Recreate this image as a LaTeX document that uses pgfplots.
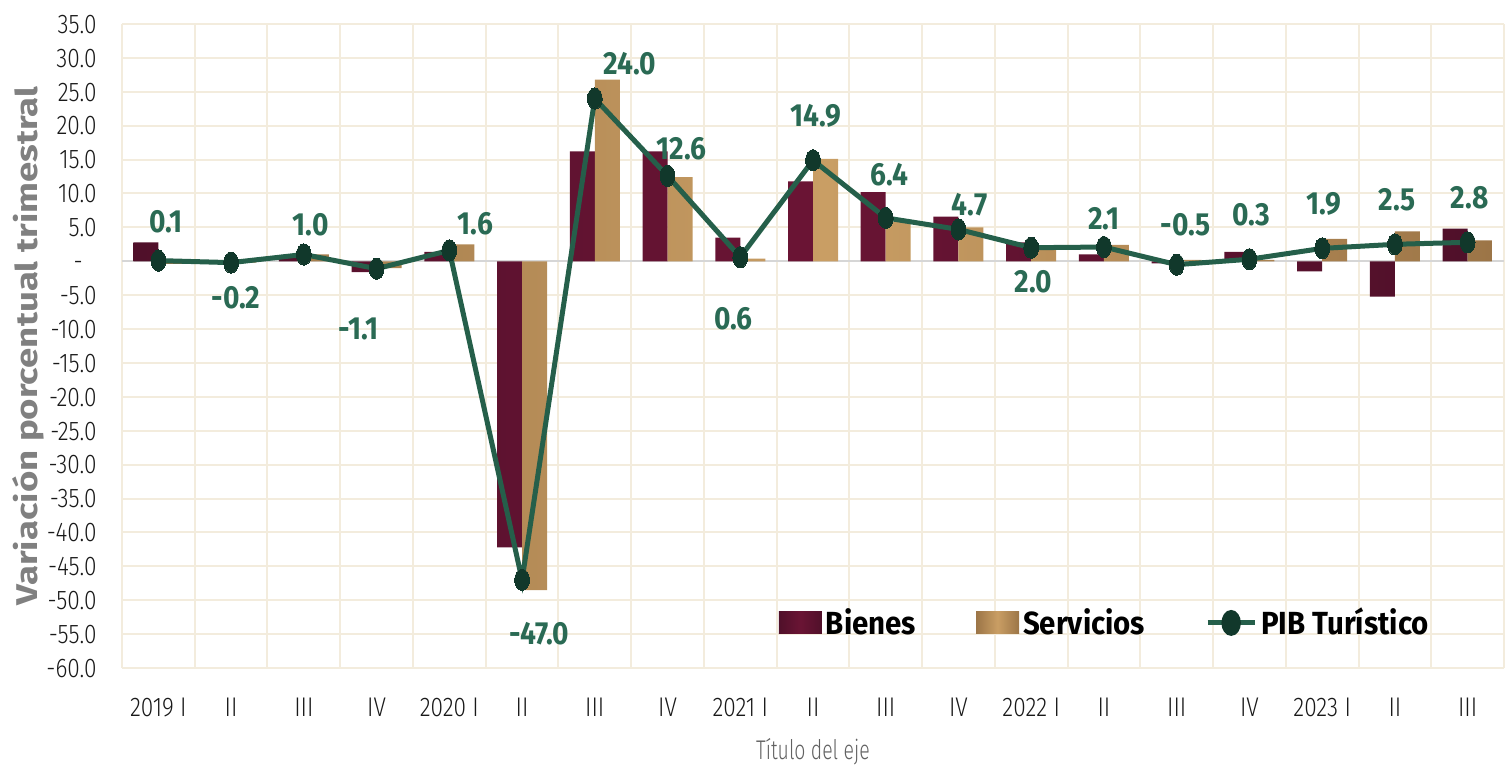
\documentclass[border=0pt]{standalone}
\usepackage{fontspec}
\setmainfont{Fira Sans}
\newfontfamily\tickfont{Fira Sans Light}[FakeStretch=0.84]
\newfontfamily\titlefont{Fira Sans Light}[FakeStretch=0.72]
\newfontfamily\labfont{Fira Sans}[FakeStretch=0.88]
\newfontfamily\legfont{Fira Sans}[FakeStretch=0.92]
\newfontfamily\ylabfont{Fira Sans}[FakeStretch=1.22]
\usepackage{pgfplots}
\pgfplotsset{compat=1.18}
\usepackage{pgfplotstable}

\definecolor{grd}{HTML}{F3ECDD}
\definecolor{zero}{HTML}{D6D6D6}
\definecolor{bien}{HTML}{6A1434}
\definecolor{biendk}{HTML}{50102A}
\definecolor{serv}{HTML}{C99E64}
\definecolor{servdk}{HTML}{9C7547}
\definecolor{pib}{HTML}{255F4A}
\definecolor{pibmk}{HTML}{11382B}
\definecolor{lab}{HTML}{2A6A54}

\pgfplotstableread{
x bienes servicios pib dx dy lab
0 2.8 -0.4 0.1 4 19.5 0.1
1 -0.3 -0.2 -0.2 2.5 -17.5 -0.2
2 0.8 1.0 1.0 3.5 15 1.0
3 -1.6 -1.0 -1.1 -9 -30 -1.1
4 1.4 2.5 1.6 13 13.5 1.6
5 -42.2 -48.5 -47.0 8.5 -27 -47.0
6 16.2 26.8 24.0 17.5 17.5 24.0
7 16.2 12.4 12.6 7 13.5 12.6
8 3.5 0.4 0.6 -3.5 -31 0.6
9 11.8 15.1 14.9 1.5 22 14.9
10 10.2 5.8 6.4 2 21.5 6.4
11 6.6 5.0 4.7 5.5 12.5 4.7
12 2.8 1.8 2.0 1 -17 2.0
13 1.0 2.4 2.1 0 14 2.1
14 -0.3 0.2 -0.5 4.5 20 -0.5
15 1.4 0.2 0.3 1 22.5 0.3
16 -1.5 3.3 1.9 1 22 1.9
17 -5.2 4.4 2.5 1 22.5 2.5
18 4.8 3.1 2.8 1 22.5 2.8
}\datatable

\begin{document}
\begin{tikzpicture}
\useasboundingbox (-61pt,-49pt) rectangle (693pt,334pt);
\begin{axis}[
  at={(0pt,0pt)}, anchor=south west,
  scale only axis, width=691pt, height=322pt,
  xmin=-0.5, xmax=18.5, ymin=-60, ymax=35,
  enlargelimits=false, clip=false,
  axis line style={draw=none},
  tick style={draw=none}, major tick length=0pt, minor tick length=0pt,
  xtick={0,...,18},
  xticklabels={2019 I, II, III, IV, 2020 I, II, III, IV, 2021 I, II, III, IV, 2022 I, II, III, IV, 2023 I, II, III},
  minor xtick={-0.5,0.5,...,18.5},
  xminorgrids=true, xmajorgrids=false, ymajorgrids=true,
  major grid style={grd, line width=1pt},
  minor grid style={grd, line width=1pt},
  ytick={-60,-55,...,35},
  yticklabels={-60.0,-55.0,-50.0,-45.0,-40.0,-35.0,-30.0,-25.0,-20.0,-15.0,-10.0,-5.0,{-\hspace*{7pt}},5.0,10.0,15.0,20.0,25.0,30.0,35.0},
  ticklabel style={font=\tickfont\fontsize{13.5}{14}\selectfont, text=black!90},
  yticklabel style={anchor=east, inner sep=0pt, xshift=-12.5pt, text height=9.3pt, text depth=0pt},
  xticklabel style={anchor=center, inner sep=0pt, yshift=-19.75pt, text height=9.3pt, text depth=0pt},
  ylabel={Variación porcentual trimestral},
  ylabel style={at={(axis description cs:-0.068,0.5)}, anchor=center, font=\ylabfont\bfseries\fontsize{15}{16}\selectfont, text=black!50},
  xlabel={Título del eje},
  xlabel style={at={(axis description cs:0.5,-0.1304)}, anchor=center, font=\titlefont\fontsize{13.5}{14}\selectfont, text=black!62},
  legend style={at={(0.475,0.07)}, anchor=west, draw=none, fill=none, inner sep=0pt,
    legend columns=3, font=\legfont\bfseries\fontsize{16}{17}\selectfont, text=black,
    /tikz/every even column/.append style={column sep=28pt}},
  legend cell align=left,
]
\draw[zero, line width=1.2pt] (axis cs:-0.5,0) -- (axis cs:18.5,0);
\addplot[ybar, bar width=12.5pt, bar shift=-6.25pt, draw=none,
  left color=biendk, right color=biendk, middle color=bien,
  legend image code/.code={\path[left color=biendk, right color=biendk, middle color=bien] (0pt,-5.5pt) rectangle (21.5pt,5.5pt);}]
  table[x=x, y=bienes] {\datatable};
\addlegendentry{Bienes}
\addplot[ybar, bar width=12.5pt, bar shift=6.25pt, draw=none,
  left color=servdk, right color=servdk, middle color=serv,
  legend image code/.code={\path[left color=servdk, right color=servdk, middle color=serv] (0pt,-5.5pt) rectangle (21.5pt,5.5pt);}]
  table[x=x, y=servicios] {\datatable};
\addlegendentry{Servicios}
\addplot[color=pib, line width=2.5pt, mark=*, mark size=5.3pt,
  mark options={fill=pibmk, draw=pibmk, line width=0pt, xscale=0.7},
  point meta=explicit symbolic,
  visualization depends on={\thisrow{dx} \as \dxv},
  visualization depends on={\thisrow{dy} \as \dyv},
  nodes near coords,
  every node near coord/.append style={font=\labfont\bfseries\fontsize{16}{17}\selectfont, text=lab, anchor=center, xshift=\dxv pt, yshift=\dyv pt},
  legend image code/.code={\draw[pib, line width=2.5pt] (0pt,0pt) -- (23.5pt,0pt); \fill[pibmk] (11.75pt,0pt) ellipse (3.6pt and 5.2pt);}]
  table[x=x, y=pib, meta=lab] {\datatable};
\addlegendentry{PIB Turístico}
\end{axis}
\end{tikzpicture}
\end{document}
